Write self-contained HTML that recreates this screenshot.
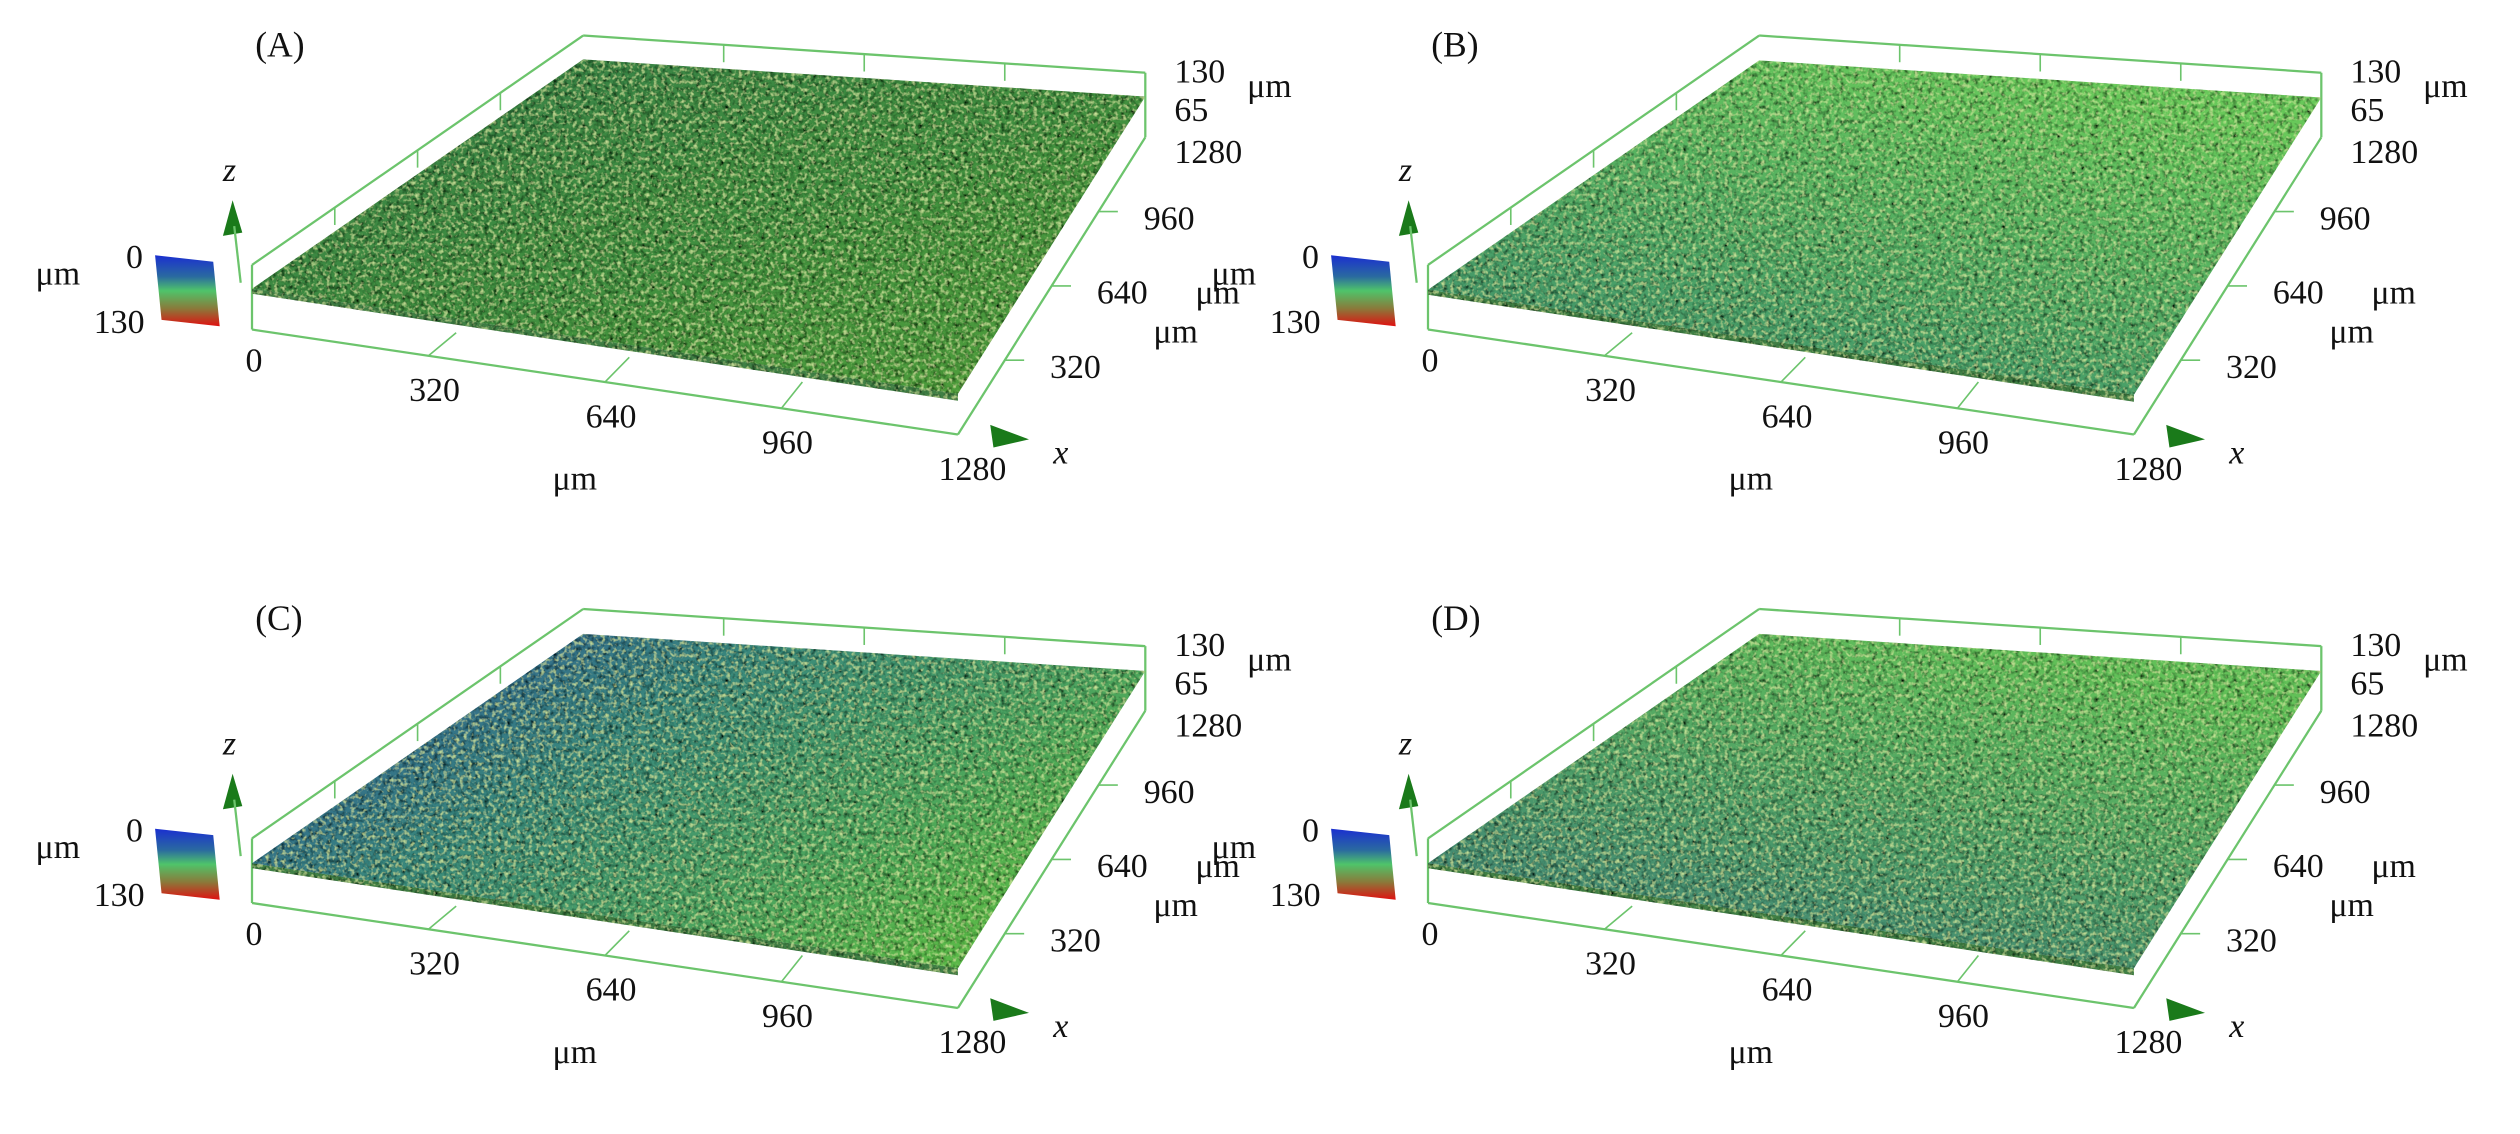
<!DOCTYPE html>
<html><head><meta charset="utf-8">
<style>
html,body{margin:0;padding:0;background:#fff;}
svg{display:block;}
text{font-family:"Liberation Serif",serif;fill:#111;}
</style></head>
<body>
<svg id="fig" width="2520" height="1134" viewBox="0 0 1560 702" xmlns="http://www.w3.org/2000/svg">
<defs>
<filter id="noise" x="0" y="0" width="1" height="1">
<feTurbulence type="fractalNoise" baseFrequency="0.35" numOctaves="2" seed="3" result="t"/>
<feColorMatrix in="t" type="matrix" values="0 0 0 0 0  0 0 0 0 0  0 0 0 0 0  0 0 0 -2.2 1.25" result="d"/>
<feComposite in="d" in2="SourceGraphic" operator="in" result="dm"/>
<feTurbulence type="fractalNoise" baseFrequency="0.4" numOctaves="2" seed="11" result="t2"/>
<feColorMatrix in="t2" type="matrix" values="0 0 0 0 0.65  0 0 0 0 0.85  0 0 0 0 0.35  0 0 0 2.2 -1.1" result="l"/>
<feComposite in="l" in2="SourceGraphic" operator="in" result="lm"/>
<feMerge><feMergeNode in="SourceGraphic"/><feMergeNode in="dm"/><feMergeNode in="lm"/></feMerge>
</filter>
<linearGradient id="cbar" x1="0" y1="0" x2="0" y2="1">
<stop offset="0" stop-color="#1a2fd0"/><stop offset="0.3" stop-color="#2a6aa0"/>
<stop offset="0.5" stop-color="#4fc46a"/><stop offset="0.75" stop-color="#8a7a3a"/>
<stop offset="1" stop-color="#e01010"/></linearGradient>
<linearGradient id="gA" x1="0" y1="0" x2="1" y2="1"><stop offset="0" stop-color="#357e48"/><stop offset="0.6" stop-color="#43913e"/><stop offset="1" stop-color="#52a03a"/></linearGradient>
<linearGradient id="gB" x1="0" y1="1" x2="0.6" y2="0"><stop offset="0" stop-color="#3a8a6e"/><stop offset="1" stop-color="#68c85a"/></linearGradient>
<linearGradient id="gC" x1="0" y1="0" x2="1" y2="0.6"><stop offset="0" stop-color="#2a4aa0"/><stop offset="0.45" stop-color="#3a8a7a"/><stop offset="1" stop-color="#5ab848"/></linearGradient>
<linearGradient id="gD" x1="0" y1="1" x2="0.6" y2="0"><stop offset="0" stop-color="#3a7a7a"/><stop offset="1" stop-color="#62c058"/></linearGradient>
</defs>
</svg>
<script>
const panelLabels = ["(A)","(B)","(C)","(D)"];
const panelFills = ["gA","gB","gC","gD"];
const surfaceHeights = [82, 80, 80, 80];
const xTicks = [0,320,640,960,1280];
const yTicks = [320,640,960,1280];
const zTicks = [65,130];
const xMax = 1280, zMax = 130;
const offsets = [[0,0],[728,0],[0,355],[728,355]];
const NS = "http://www.w3.org/2000/svg";
const svg = document.getElementById('fig');
function mk(tag, attrs, parent){const e=document.createElementNS(NS,tag);for(const k in attrs)e.setAttribute(k,attrs[k]);parent.appendChild(e);return e;}
const FL=[156,204], FR=[593,269], BR=[709,85], BL=[361,62], ZPX=40;
function proj(x,y,z){const u=x/xMax,v=y/xMax;
 const px=(1-u)*(1-v)*FL[0]+u*(1-v)*FR[0]+u*v*BR[0]+(1-u)*v*BL[0];
 const py=(1-u)*(1-v)*FL[1]+u*(1-v)*FR[1]+u*v*BR[1]+(1-u)*v*BL[1];
 return [px, py - z/zMax*ZPX];}
const LC="#6cc46c";
panelLabels.forEach((lab,i)=>{
 const [ox,oy]=offsets[i];
 const g=mk('g',{transform:`translate(${ox},${oy})`},svg);
 
 
 const t=mk('text',{x:158,y:35,'font-size':22},g); t.textContent=lab;
 
 
 const ln=(a,b,w)=>{const l=mk('line',{x1:a[0],y1:a[1],x2:b[0],y2:b[1],stroke:LC,'stroke-width':w||1.4},g);return l;};
 ln(proj(0,xMax,zMax),proj(xMax,xMax,zMax));
 ln(proj(0,0,zMax),proj(0,xMax,zMax));
 ln(proj(xMax,xMax,0),proj(xMax,xMax,zMax));
 ln(proj(0,0,0),proj(0,0,zMax));
 [320,640,960].forEach(v=>{ln(proj(v,xMax,zMax),proj(v,xMax,zMax-35),1);ln(proj(0,v,zMax),proj(0,v,zMax-35),1);});
 const h=surfaceHeights[i];
 const c=[proj(0,0,h),proj(xMax,0,h),proj(xMax,xMax,h),proj(0,xMax,h)];
 const sk=mk('polygon',{points:[c[0],c[1],proj(xMax,0,h-14),proj(0,0,h-10)].map(p=>p.join(',')).join(' '),fill:'#3f7f45',filter:'url(#noise)'},g);
 
 
 const s=mk('polygon',{points:c.map(p=>p.join(',')).join(' '),fill:`url(#${panelFills[i]})`,filter:'url(#noise)'},g);
 
 
 ln(proj(0,0,0),proj(xMax,0,0));
 ln(proj(xMax,0,0),proj(xMax,xMax,0));
 const e=proj(xMax,0,0);
 const a=mk('polygon',{points:`${e[0]+20},${e[1]-6} ${e[0]+44},${e[1]+3} ${e[0]+22},${e[1]+8}`,fill:'#1a7a1a'},g);
 
 const za=mk('polygon',{points:`144,124 138,146 150,144`,fill:'#1a7a1a'},g);
 
 ln([145,140],[149,175],1.4);
 xTicks.forEach((v,k)=>{const p=proj(v,0,0);
  if(k>0&&k<xTicks.length-1) ln(p,proj(v,120,0),1);
  const tx=mk('text',{x:p[0]-4+(k===0?0:-8),y:p[1]+(k===0?26:28),'font-size':21},g);tx.textContent=v;
  });
 yTicks.forEach(v=>{const p=proj(xMax,v,0);
  if(v<xMax) ln(p,[p[0]+12,p[1]],1);
  const tx=mk('text',{x:p[0]+(v===xMax?18:28),y:p[1]+(v===xMax?16:11),'font-size':21},g);tx.textContent=v;
  });
 zTicks.forEach(v=>{const p=proj(xMax,xMax,v);
  const tx=mk('text',{x:p[0]+18,y:p[1]+(v===zMax?6:10),'font-size':21},g);tx.textContent=v;
  });
 const lbl=(x,y,s,it,n)=>{const tx=mk('text',{x:x,y:y,'font-size':21,'font-style':it?'italic':'normal'},g);tx.textContent=s;};
 lbl(342,303,'μm',0,'x-unit-label');
 lbl(652,287,'x',1,'x-axis-title');
 lbl(714,212,'μm',0,'y-unit-label');
 lbl(740,188,'μm',0,'y-unit-label-right');
 lbl(772,60,'μm',0,'z-unit-label');
 lbl(138,112,'z',1,'z-axis-title');
 const cb=mk('polygon',{points:'96,158 132,162 136,202 100,198',fill:'url(#cbar)'},g);
 
 lbl(78,166,'0',0,'colorbar-min-label');
 lbl(58,206,'130',0,'colorbar-max-label');
 lbl(22,176,'μm',0,'colorbar-unit-label');
});
</script>
</body></html>
